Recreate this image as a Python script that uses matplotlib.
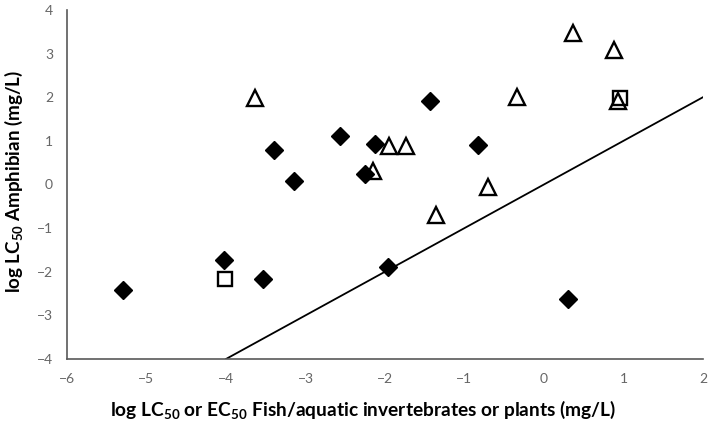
import matplotlib
matplotlib.use('Agg')
import matplotlib.pyplot as plt

plt.rcParams['font.family'] = ['Lato', 'DejaVu Sans']
plt.rcParams['mathtext.fontset'] = 'custom'
plt.rcParams['mathtext.rm'] = 'Lato'
plt.rcParams['mathtext.bf'] = 'Lato:bold'

# filled diamonds
diamond_x = [-5.30, -4.02, -3.53, -3.40, -3.14, -2.56, -2.12, -2.25, -1.44, -0.83, -1.96, 0.30]
diamond_y = [-2.42, -1.72, -2.17, 0.78, 0.08, 1.12, 0.93, 0.23, 1.91, 0.90, -1.90, -2.63]

# open triangles
tri_x = [-3.64, -2.15, -1.95, -1.74, -1.36, -0.71, -0.34, 0.37, 0.88, 0.93]
tri_y = [1.98, 0.30, 0.89, 0.89, -0.71, -0.06, 2.00, 3.47, 3.09, 1.92]

# open squares
sq_x = [-4.01, 0.95]
sq_y = [-2.17, 1.98]

# 1:1 line
line_x = [-4, 2]
line_y = [-4, 2]

fig = plt.figure(figsize=(7.09, 4.32), dpi=100)
ax = fig.add_axes([0.0945, 0.169, 0.897, 0.808])

ax.plot(line_x, line_y, color='black', lw=1.3, zorder=1)
ax.plot(diamond_x, diamond_y, 'D', color='black', ms=9.5, ls='none', zorder=3)
ax.plot(tri_x, tri_y, '^', mfc='none', mec='black', mew=1.7, ms=11.5, ls='none', zorder=3)
ax.plot(sq_x, sq_y, 's', mfc='none', mec='black', mew=1.7, ms=10.5, ls='none', zorder=2)

ax.set_xlim(-6, 2)
ax.set_ylim(-4, 4)
ax.set_xticks(range(-6, 3))
ax.set_yticks(range(-4, 5))

for side in ['top', 'right']:
    ax.spines[side].set_visible(False)
ax.spines['left'].set_color('#595959')
ax.spines['bottom'].set_color('#595959')
ax.spines['left'].set_linewidth(1.2)
ax.spines['bottom'].set_linewidth(1.2)
ax.tick_params(length=0, labelsize=10, colors='#666666', pad=10)

ax.set_xlabel(r'log LC$_{\mathbf{50}}$ or EC$_{\mathbf{50}}$ Fish/aquatic invertebrates or plants (mg/L)',
              fontsize=13.8, fontweight='bold')
ax.set_ylabel(r'log LC$_{\mathbf{50}}$ Amphibian (mg/L)', fontsize=13.5, fontweight='bold')
ax.xaxis.set_label_coords(0.465, -0.112)
ax.yaxis.set_label_coords(-0.066, 0.509)

fig.savefig('out.png', dpi=100)
